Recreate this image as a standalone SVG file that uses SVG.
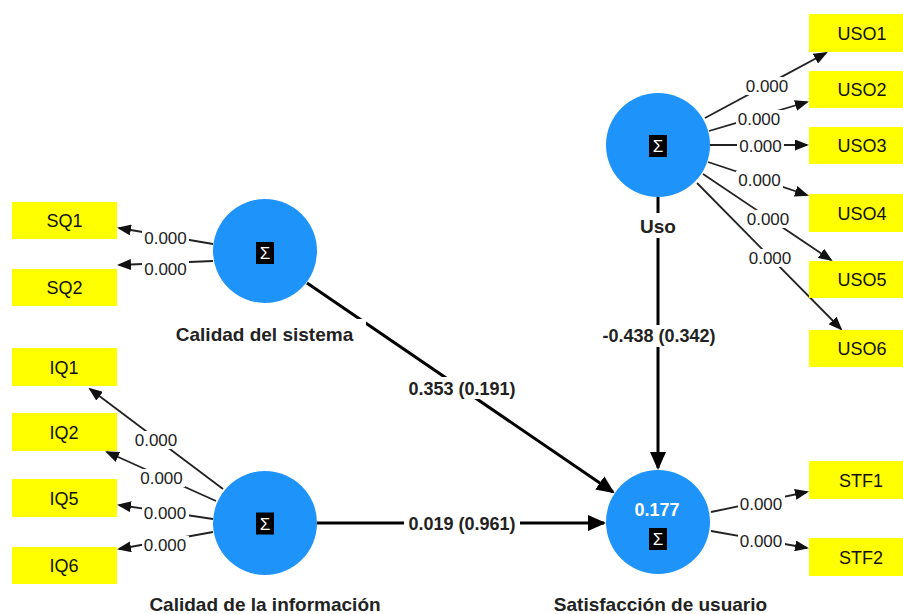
<svg xmlns="http://www.w3.org/2000/svg" width="903" height="614" viewBox="0 0 903 614">
  <style>
    .lv circle { fill: #1E93FA; }
    .mv rect { fill: #FFFF00; }
    .mv text { font: 18px "Liberation Sans", Arial, sans-serif; fill: #111; text-anchor: middle; }
    .name { font: bold 19px "Liberation Sans", Arial, sans-serif; fill: #222; text-anchor: middle; }
    .sig rect { fill: #000; }
    .sig text { font: 17px "Liberation Sans", "DejaVu Sans", sans-serif; fill: #fff; text-anchor: middle; }
    .r2 { font: bold 18px "Liberation Sans", Arial, sans-serif; fill: #fff; text-anchor: middle; }
    .thin { stroke: #222; stroke-width: 1.8; fill: none; marker-end: url(#ah); }
    .thick { stroke: #000; stroke-width: 3; fill: none; marker-end: url(#AH); }
    .bg { fill: #fff; }
    .w { font: 17px "Liberation Sans", Arial, sans-serif; fill: #222; text-anchor: middle; }
    .p { font: bold 18px "Liberation Sans", Arial, sans-serif; fill: #222; text-anchor: middle; }
  </style>
  <defs>
    <marker id="ah" markerUnits="userSpaceOnUse" markerWidth="14" markerHeight="11" refX="12" refY="5.5" orient="auto">
      <path d="M0,0 L14,5.5 L0,11 z" fill="#111"/>
    </marker>
    <marker id="AH" markerUnits="userSpaceOnUse" markerWidth="18" markerHeight="16" refX="16" refY="8" orient="auto">
      <path d="M0,0 L18,8 L0,16 z" fill="#000"/>
    </marker>
  </defs>
  <rect width="903" height="614" fill="#fff"/>

  <g id="connectors">
    <!-- structural paths -->
    <line class="thick" x1="307" y1="283" x2="613" y2="492"/>
    <line class="thick" x1="317" y1="523" x2="604" y2="523"/>
    <line class="thick" x1="658" y1="197" x2="658" y2="468"/>
    <!-- outer weights -->
    <line class="thin" x1="213" y1="244" x2="119" y2="228"/>
    <line class="thin" x1="213" y1="261" x2="119" y2="265"/>
    <line class="thin" x1="223" y1="489" x2="90" y2="389"/>
    <line class="thin" x1="216" y1="501" x2="107" y2="452"/>
    <line class="thin" x1="213" y1="519" x2="119" y2="505"/>
    <line class="thin" x1="213" y1="532" x2="119" y2="549"/>
    <line class="thin" x1="705" y1="118" x2="826" y2="53"/>
    <line class="thin" x1="709" y1="131" x2="807" y2="102"/>
    <line class="thin" x1="710" y1="145" x2="807" y2="145"/>
    <line class="thin" x1="708" y1="162" x2="807" y2="195"/>
    <line class="thin" x1="703" y1="174" x2="831" y2="260"/>
    <line class="thin" x1="697" y1="183" x2="841" y2="329"/>
    <line class="thin" x1="711" y1="512" x2="807" y2="492"/>
    <line class="thin" x1="711" y1="531" x2="807" y2="548"/>
    <!-- label backings -->
    <rect class="bg" x="142" y="229" width="47" height="18"/>
    <rect class="bg" x="142" y="260" width="47" height="18"/>
    <rect class="bg" x="133" y="431" width="47" height="18"/>
    <rect class="bg" x="138" y="469" width="47" height="18"/>
    <rect class="bg" x="142" y="503.5" width="47" height="18"/>
    <rect class="bg" x="142" y="536" width="47" height="18"/>
    <rect class="bg" x="744" y="77" width="47" height="18"/>
    <rect class="bg" x="736" y="110" width="47" height="18"/>
    <rect class="bg" x="737" y="137" width="47" height="18"/>
    <rect class="bg" x="736" y="171" width="47" height="18"/>
    <rect class="bg" x="745" y="210" width="47" height="18"/>
    <rect class="bg" x="747" y="249" width="47" height="18"/>
    <rect class="bg" x="738" y="494.5" width="47" height="18"/>
    <rect class="bg" x="738" y="532" width="47" height="18"/>
    <rect class="bg" x="404" y="377" width="116" height="22"/>
    <rect class="bg" x="404" y="513" width="116" height="22"/>
    <rect class="bg" x="598" y="325" width="122" height="22"/>
    <!-- weight labels -->
    <text class="w" x="165.5" y="244">0.000</text>
    <text class="w" x="165.5" y="275">0.000</text>
    <text class="w" x="156" y="446">0.000</text>
    <text class="w" x="161.5" y="484">0.000</text>
    <text class="w" x="165" y="518.5">0.000</text>
    <text class="w" x="165" y="551">0.000</text>
    <text class="w" x="767" y="92">0.000</text>
    <text class="w" x="759" y="125">0.000</text>
    <text class="w" x="760.5" y="152">0.000</text>
    <text class="w" x="759.5" y="186">0.000</text>
    <text class="w" x="768" y="225">0.000</text>
    <text class="w" x="770" y="264">0.000</text>
    <text class="w" x="761" y="509.5">0.000</text>
    <text class="w" x="761" y="547">0.000</text>
    <!-- path coefficients -->
    <text class="p" x="462" y="394.5">0.353 (0.191)</text>
    <text class="p" x="462" y="530">0.019 (0.961)</text>
    <text class="p" x="659" y="342">-0.438 (0.342)</text>
  </g>

  <g id="sistema" class="lv">
    <circle cx="265" cy="251" r="52"/>
    <g class="sig"><rect x="256" y="242" width="18" height="22"/><text x="265" y="259">Σ</text></g>
    <rect class="bg" x="168" y="319" width="198" height="28"/>
    <text class="name" x="264.5" y="341">Calidad del sistema</text>
  </g>
  <g id="informacion" class="lv">
    <circle cx="265" cy="523" r="52"/>
    <g class="sig"><rect x="256" y="512.5" width="18" height="22"/><text x="265" y="529.5">Σ</text></g>
    <text class="name" x="265" y="611">Calidad de la información</text>
  </g>
  <g id="uso" class="lv">
    <circle cx="658" cy="145" r="52"/>
    <g class="sig"><rect x="649" y="135" width="18" height="22"/><text x="658" y="152">Σ</text></g>
    <rect class="bg" x="636" y="213" width="44" height="25"/>
    <text class="name" x="658" y="233">Uso</text>
  </g>
  <g id="satisfaccion" class="lv">
    <circle cx="658" cy="522" r="52"/>
    <text class="r2" x="657" y="516">0.177</text>
    <g class="sig"><rect x="649" y="528" width="18" height="22"/><text x="658" y="545">Σ</text></g>
    <text class="name" x="660.5" y="611">Satisfacción de usuario</text>
  </g>

  <g id="SQ1" class="mv"><rect x="12" y="202" width="105" height="37"/><text x="64.5" y="227">SQ1</text></g>
  <g id="SQ2" class="mv"><rect x="12" y="269" width="105" height="37"/><text x="64.5" y="294">SQ2</text></g>
  <g id="IQ1" class="mv"><rect x="12" y="348" width="105" height="38"/><text x="64" y="373.5">IQ1</text></g>
  <g id="IQ2" class="mv"><rect x="12" y="413" width="105" height="38"/><text x="64" y="438.5">IQ2</text></g>
  <g id="IQ5" class="mv"><rect x="12" y="479" width="105" height="38"/><text x="64" y="504.5">IQ5</text></g>
  <g id="IQ6" class="mv"><rect x="12" y="547" width="105" height="37"/><text x="64" y="572">IQ6</text></g>
  <g id="USO1" class="mv"><rect x="809" y="14" width="105" height="38"/><text x="862" y="39.5">USO1</text></g>
  <g id="USO2" class="mv"><rect x="809" y="71" width="105" height="37"/><text x="862" y="96">USO2</text></g>
  <g id="USO3" class="mv"><rect x="809" y="127" width="105" height="37"/><text x="862" y="152">USO3</text></g>
  <g id="USO4" class="mv"><rect x="809" y="194" width="105" height="38"/><text x="862" y="219.5">USO4</text></g>
  <g id="USO5" class="mv"><rect x="809" y="261" width="105" height="37"/><text x="862" y="286">USO5</text></g>
  <g id="USO6" class="mv"><rect x="809" y="330" width="105" height="37"/><text x="862" y="355">USO6</text></g>
  <g id="STF1" class="mv"><rect x="809" y="461" width="105" height="38"/><text x="861" y="486.5">STF1</text></g>
  <g id="STF2" class="mv"><rect x="809" y="538" width="105" height="38"/><text x="861" y="563.5">STF2</text></g>
</svg>
